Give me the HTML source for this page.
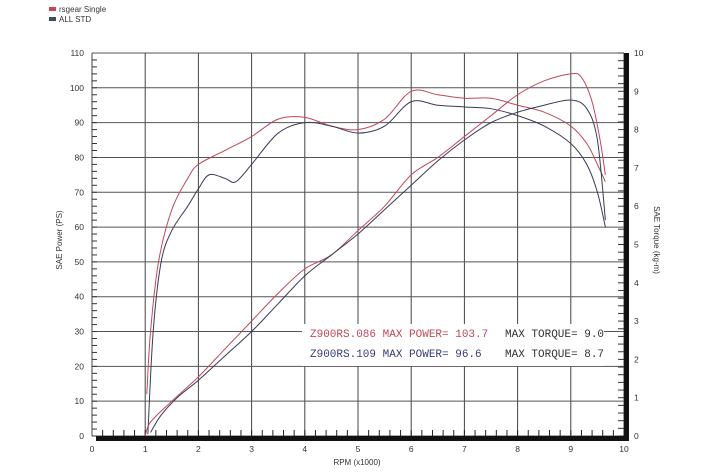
<!DOCTYPE html>
<html><head><meta charset="utf-8"><style>
html,body{margin:0;padding:0;background:#fff;width:710px;height:474px;overflow:hidden}
svg{display:block}
text{font-family:"Liberation Sans",sans-serif;font-size:8.5px;fill:#333}
.m{font-family:"Liberation Mono",monospace;font-size:11px}
</style></head><body>
<svg id="s" width="710" height="474" viewBox="0 0 710 474"></svg>
<script>
const s=document.getElementById('s');let h='';
const X=r=>92+53.2*r, Y=p=>436-3.482*p, YT=t=>436-38.3*t;
// grid
for(let i=0;i<=10;i++){h+=`<line x1="${X(i)}" y1="53" x2="${X(i)}" y2="436" stroke="#444" stroke-width="1"/>`;
 h+=`<text x="${X(i)}" y="452" text-anchor="middle">${i}</text>`;}
for(let p=0;p<=110;p+=10){h+=`<line x1="92" y1="${Y(p)}" x2="624" y2="${Y(p)}" stroke="#555" stroke-width="1"/>`;
 h+=`<text x="84" y="${Y(p)+3}" text-anchor="end">${p}</text>`;}
for(let p=0;p<110;p+=2){h+=`<line x1="92" y1="${Y(p)}" x2="97" y2="${Y(p)}" stroke="#333"/>`;}
for(let t=0;t<=10;t++){h+=`<text x="634" y="${YT(t)+3}">${t}</text>`;}
for(let t=0;t<10;t+=0.2){h+=`<line x1="618" y1="${YT(t)}" x2="624" y2="${YT(t)}" stroke="#333"/>`;}
for(let r=0.2;r<10;r+=0.2){h+=`<line x1="${X(r)}" y1="430" x2="${X(r)}" y2="437" stroke="#222"/>`;}
h+=`<rect x="96" y="436" width="532" height="5" fill="#111"/><rect x="624" y="53" width="5" height="388" fill="#111"/>`;
function path(pts,c){let d='';const P=pts.map(a=>[X(a[0]),Y(a[1])]);
 d=`M${P[0][0]},${P[0][1]}`;
 for(let i=0;i<P.length-1;i++){const p0=P[i-1]||P[i],p1=P[i],p2=P[i+1],p3=P[i+2]||p2;
  d+=` C${p1[0]+(p2[0]-p0[0])/6},${p1[1]+(p2[1]-p0[1])/6} ${p2[0]-(p3[0]-p1[0])/6},${p2[1]-(p3[1]-p1[1])/6} ${p2[0]},${p2[1]}`;}
 return `<path d="${d}" fill="none" stroke="${c}" stroke-width="1"/>`;}
const red='#c04858',blu='#3a3a55';
h+=path([[1.03,12],[1.1,30],[1.25,50],[1.5,65],[1.8,74],[2,78],[2.5,82],[3,86],[3.5,91],[4,91.5],[4.5,89],[5,88],[5.5,91],[6,99],[6.5,98],[7,97],[7.5,97],[8,95],[8.5,93],[9,89],[9.3,84],[9.5,78],[9.65,73]],red);
h+=path([[1.05,0.5],[1.15,30],[1.3,50],[1.5,59],[1.8,66],[2,71],[2.2,75],[2.5,74],[2.7,73],[3,78],[3.5,87],[4,90],[4.5,89],[5,87],[5.5,89],[6,96],[6.5,95],[7,94.5],[7.5,94],[8,92],[8.5,89],[9,84],[9.3,78],[9.5,70],[9.65,60]],blu);
h+=path([[1,0],[1.1,4],[1.5,10],[2,17],[2.5,25],[3,33],[3.5,41],[4,48],[4.5,52],[5,59],[5.5,66],[6,75],[6.5,80],[7,86],[7.5,92],[8,98],[8.5,102],[9,104],[9.2,103],[9.4,96],[9.55,85],[9.65,75]],red);
h+=path([[1.1,1],[1.3,6],[1.6,11],[2,16],[2.5,23],[3,30],[3.5,38],[4,46],[4.5,52],[5,58],[5.5,65],[6,72],[6.5,79],[7,85],[7.5,90],[8,93],[8.5,95],[9,96.5],[9.3,94],[9.5,85],[9.65,62]],blu);
h+=`<rect x="302" y="324" width="302" height="42" fill="#fff"/>`;
h+=`<text class="m" x="310" y="337" fill="${red}" style="fill:${red}">Z900RS.086  MAX POWER= 103.7</text>`;
h+=`<text class="m" x="505" y="337" style="fill:#333">MAX TORQUE= 9.0</text>`;
h+=`<text class="m" x="310" y="357" style="fill:#3a3a7a">Z900RS.109  MAX POWER= 96.6</text>`;
h+=`<text class="m" x="505" y="357" style="fill:#333">MAX TORQUE= 8.7</text>`;
h+=`<text x="357" y="465" text-anchor="middle" style="font-size:8px">RPM (x1000)</text>`;
h+=`<text transform="translate(62,240) rotate(-90)" text-anchor="middle" style="font-size:8px">SAE Power (PS)</text>`;
h+=`<text transform="translate(654,240) rotate(90)" text-anchor="middle" style="font-size:8px">SAE Torque (kg-m)</text>`;
h+=`<rect x="49" y="7" width="7" height="4" fill="${red}"/><text x="59" y="12" style="font-size:8px">rsgear Single</text>`;
h+=`<rect x="49" y="17" width="7" height="4" fill="#3a5060"/><text x="59" y="22" style="font-size:8px">ALL STD</text>`;
s.innerHTML=h;
</script>
</body></html>
